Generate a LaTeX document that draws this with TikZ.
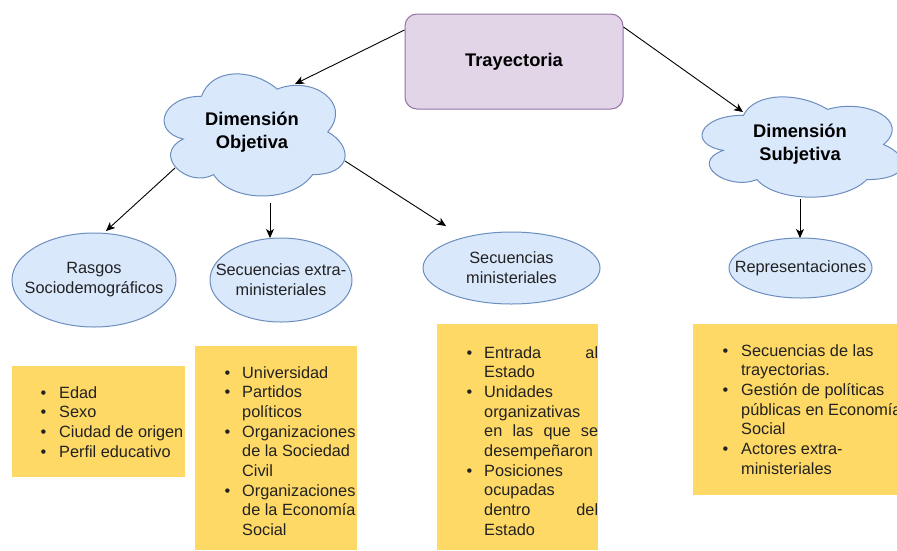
\documentclass[tikz,border=0pt]{standalone}
\usepackage{fontspec}
\setmainfont{Liberation Sans}
\usetikzlibrary{arrows.meta,calc,shapes.geometric}
\definecolor{purfill}{HTML}{E1D5E7}
\definecolor{purline}{HTML}{9673A6}
\definecolor{bluefill}{HTML}{DAE8FC}
\definecolor{blueline}{HTML}{6C8EBF}
\definecolor{notefill}{HTML}{FFD966}
\definecolor{ink}{HTML}{222222}
\newcommand\drawiocloud[4]{%
  \begin{scope}[shift={(#1,#2)},x=#3pt,y=-#4pt]
    \path[blueshape] (0.25,0.25) .. controls (0.05,0.25) and (0,0.5) .. (0.16,0.55)
      .. controls (0,0.66) and (0.18,0.9) .. (0.31,0.8)
      .. controls (0.4,1) and (0.7,1) .. (0.8,0.8)
      .. controls (1,0.8) and (1,0.6) .. (0.875,0.5)
      .. controls (1,0.3) and (0.8,0.1) .. (0.625,0.2)
      .. controls (0.5,0.05) and (0.3,0.05) .. (0.25,0.25) -- cycle;
  \end{scope}}
\begin{document}
\begin{tikzpicture}[x=1pt,y=-1pt,
  arr/.style={-{Stealth[length=9pt,width=8pt,inset=2.5pt]}, line width=0.9pt, draw=black},
  blueshape/.style={fill=bluefill, draw=blueline, line width=1pt},
  ell/.style={ellipse, blueshape, inner sep=0pt},
  lbl/.style={align=center, inner sep=0pt, font=\fontsize{16.3}{20}\selectfont, text=ink},
  blbl/.style={align=center, inner sep=0pt, font=\fontsize{18.3}{23}\selectfont\bfseries, text=black},
  note/.style={fill=notefill, draw=none, inner sep=0pt},
  listtxt/.style={anchor=base west, inner sep=0pt, font=\fontsize{16.3}{19.7}\selectfont, text=ink},
]
\useasboundingbox (0,0) rectangle (897,550);
\fill[white] (0,0) rectangle (897,550);

% yellow note boxes
\node[note, minimum width=173pt, minimum height=111pt] (n1) at (98.5,421.5) {};
\node[note, minimum width=162pt, minimum height=204pt] (n2) at (276,448) {};
\node[note, minimum width=161pt, minimum height=226pt] (n3) at (517.5,437) {};
\node[note, minimum width=207pt, minimum height=171pt] (n4) at (796.5,409.5) {};

\begin{scope}
\clip (n1.south west) rectangle (n1.north east);
\node[listtxt] (l1) at (40.5,398) {\begin{tabular}[t]{@{}p{18.5pt}@{}l@{}}
\textbullet & Edad\\
\textbullet & Sexo\\
\textbullet & Ciudad de origen\\
\textbullet & Perfil educativo
\end{tabular}};
\end{scope}

\begin{scope}
\clip (n2.south west) rectangle (n2.north east);
\node[listtxt] (l2) at (224.5,378) {\begin{tabular}[t]{@{}p{17.5pt}@{}l@{}}
\textbullet & Universidad\\
\textbullet & Partidos\\
 & políticos\\
\textbullet & Organizaciones\\
 & de la Sociedad\\
 & Civil\\
\textbullet & Organizaciones\\
 & de la Economía\\
 & Social
\end{tabular}};
\end{scope}

\begin{scope}
\clip (n3.south west) rectangle (n3.north east);
\node[listtxt] (l3) at (466.5,358) {\begin{tabular}[t]{@{}p{17.5pt}@{}l@{}}
\textbullet & \makebox[114pt][s]{Entrada\hfill al}\\
 & Estado\\
\textbullet & Unidades\\
 & organizativas\\
 & \makebox[114pt][s]{en las que se}\\
 & desempeñaron\\
\textbullet & Posiciones\\
 & ocupadas\\
 & \makebox[114pt][s]{dentro\hfill del}\\
 & Estado
\end{tabular}};
\end{scope}

\begin{scope}
\clip (n4.south west) rectangle (n4.north east);
\node[listtxt] (l4) at (722.5,356) {\begin{tabular}[t]{@{}p{18.5pt}@{}l@{}}
\textbullet & Secuencias de las\\
 & trayectorias.\\
\textbullet & Gestión de políticas\\
 & públicas en Economía\\
 & Social\\
\textbullet & Actores extra-\\
 & ministeriales
\end{tabular}};
\end{scope}

% top box
\node[draw=purline, fill=purfill, rounded corners=12pt, minimum width=218pt,
      minimum height=95pt, line width=1pt, blbl] (tray) at (514,61.5) {Trayectoria};

% clouds
\drawiocloud{151}{60.6}{202}{142.5}
\node[blbl] (dobj) at (252,132) {Dimensión\\Objetiva};
\drawiocloud{687.5}{86}{224}{117}
\node[blbl] (dsubj) at (800,144.5) {Dimensión\\Subjetiva};

% ellipses
\node[ell, minimum width=164pt, minimum height=94pt] (rasgos) at (94,280) {};
\node[lbl] (rasgost) at (rasgos) {Rasgos\\Sociodemográficos};
\node[ell, minimum width=142pt, minimum height=84pt] (sext) at (281,280) {};
\node[lbl] (sextt) at (sext) {Secuencias extra-\\ministeriales};
\node[ell, minimum width=177pt, minimum height=72pt] (smin) at (511.5,268) {};
\node[lbl] (smint) at (smin) {Secuencias\\ministeriales};
\node[ell, minimum width=143pt, minimum height=60pt] (repr) at (800.5,268) {};
\node[lbl] (reprt) at (repr) {Representaciones};

% connectors
\draw[arr] ($(tray.west)+(0,-31.5)$) -- ($(dobj.center)+(43,-48)$);
\draw[arr] ($(tray.east)+(0,-34.5)$) -- ($(dsubj.center)+(-57,-32.5)$);
\draw[arr] ($(dobj.center)+(-77,36)$) -- ($(rasgos.center)+(12,-49)$);
\draw[arr] ($(dobj.center)+(18,71)$) -- ($(sext.center)+(-11,-42)$);
\draw[arr] ($(dobj.center)+(93,29)$) -- ($(smin.center)+(-65.5,-42)$);
\draw[arr] ($(dsubj.center)+(0,54.5)$) -- ($(repr.center)+(-0.5,-30)$);
\end{tikzpicture}
\end{document}
